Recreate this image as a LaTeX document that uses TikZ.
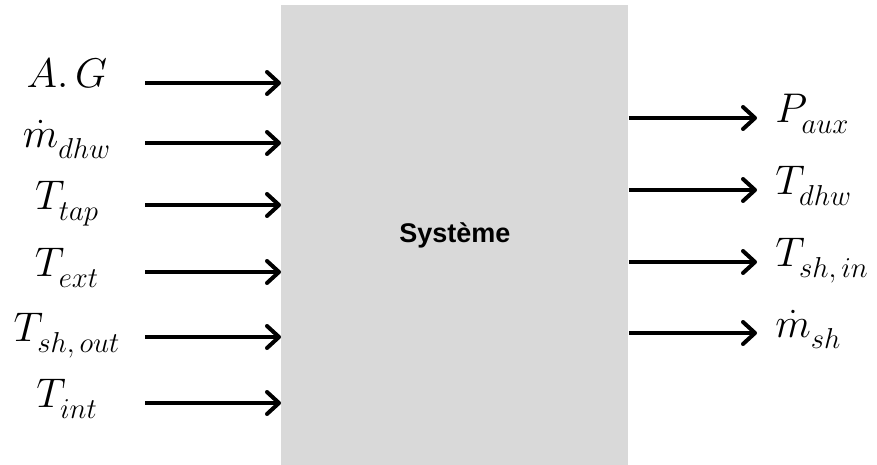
\documentclass[tikz,border=0pt]{standalone}
\usepackage{fontspec}
\usepackage{amsmath}
\newfontfamily\sysfont{Liberation Sans}
\usetikzlibrary{arrows.meta}
\definecolor{sysgray}{RGB}{217,217,217}
\newcommand{\lsub}[1]{_{\raisebox{-2.5pt}{$\scriptstyle #1$}}}

\begin{document}
\begin{tikzpicture}[x=0.5pt, y=-0.5pt,
    sysbox/.style={fill=sysgray, inner sep=0pt, anchor=north west,
                   minimum width=173.5pt, minimum height=230pt,
                   font=\sysfont\bfseries\fontsize{13.5}{16}\selectfont},
    inp/.style={anchor=mid, minimum width=78pt, inner sep=0pt,
                font=\fontsize{20}{24}\selectfont},
    outp/.style={anchor=mid west, inner xsep=9pt, inner ysep=0pt,
                 font=\fontsize{20}{24}\selectfont},
    arr/.style={-{Straight Barb[length=6pt, width=11pt, round]}, line width=2pt}
  ]
  \useasboundingbox (0,0) rectangle (877,465);
  \node[sysbox] (sys) at (281,5) {Système};
  % inputs
  \node[inp] (ag)     at (67,83)  {$A.\,G$};
  \node[inp] (mdhw)   at (67,143) {$\dot{m}\lsub{dhw}$};
  \node[inp] (ttap)   at (67,205) {$T\lsub{tap}$};
  \node[inp] (tex)    at (67,272) {$T\lsub{ext}$};
  \node[inp] (tshout) at (67,337) {$T\lsub{sh,\,out}$};
  \node[inp] (tint)   at (67,403) {$T\lsub{int}$};
  % outputs
  \node[outp] (paux)  at (757,118) {$P\lsub{aux}$};
  \node[outp] (tdhw)  at (757,190) {$T\lsub{dhw}$};
  \node[outp] (tshin) at (757,262) {$T\lsub{sh,\,in}$};
  \node[outp] (msh)   at (757,333) {$\dot{m}\lsub{sh}$};
  \draw[arr] (ag.mid east) -- (ag.mid east -| sys.west);
  \draw[arr] (mdhw.mid east) -- (mdhw.mid east -| sys.west);
  \draw[arr] (ttap.mid east) -- (ttap.mid east -| sys.west);
  \draw[arr] (tex.mid east) -- (tex.mid east -| sys.west);
  \draw[arr] (tshout.mid east) -- (tshout.mid east -| sys.west);
  \draw[arr] (tint.mid east) -- (tint.mid east -| sys.west);
  \draw[arr] (paux.mid west -| sys.east) -- (paux.mid west);
  \draw[arr] (tdhw.mid west -| sys.east) -- (tdhw.mid west);
  \draw[arr] (tshin.mid west -| sys.east) -- (tshin.mid west);
  \draw[arr] (msh.mid west -| sys.east) -- (msh.mid west);
\end{tikzpicture}
\end{document}
